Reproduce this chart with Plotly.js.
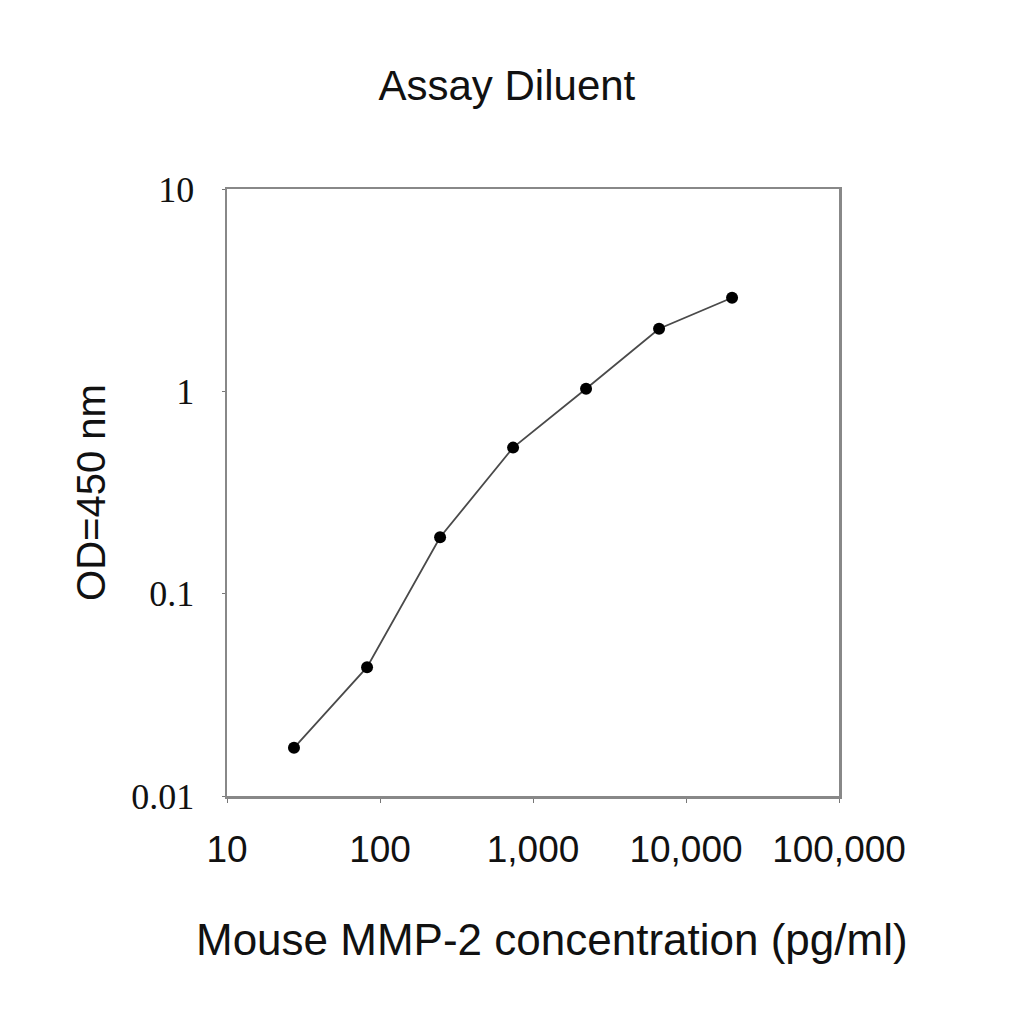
<!DOCTYPE html>
<html>
<head>
<meta charset="utf-8">
<script src="https://cdn.plot.ly/plotly-3.0.1.min.js"></script>
<style>
  html, body { margin: 0; padding: 0; background: #fff; }
  #chart { width: 1024px; height: 1024px; }
</style>
</head>
<body>
<div id="chart"></div>
<script>
// standard curve, 3-fold dilution series
var concentration = [27.4, 82.3, 247, 741, 2222, 6667, 20000];
var odValues = [0.0173, 0.0433, 0.190, 0.527, 1.03, 2.04, 2.90];

var xTickVals = [10, 100, 1000, 10000, 100000];
var xTickText = ['10', '100', '1,000', '10,000', '100,000'];
var yTickVals = [0.01, 0.1, 1, 10];
var yTickText = ['0.01', '0.1', '1', '10'];

var sans = 'Liberation Sans, Arial, sans-serif';
var serif = 'Liberation Serif, Times New Roman, serif';

var plotlyData = [
    {
        x: concentration,
        y: odValues,
        type: 'scatter',
        mode: 'lines+markers',
        line: { color: '#4a4a4a', width: 1.8 },
        marker: { color: '#000', size: 12 },
        cliponaxis: false
    }
];

var plotlyLayout = {
    width: 1024,
    height: 1024,
    paper_bgcolor: '#fff',
    plot_bgcolor: '#fff',
    showlegend: false,
    margin: { l: 227, r: 185, t: 189, b: 228 },
    title: {
        text: 'Assay Diluent',
        font: { family: sans, size: 42, color: '#111' },
        x: 0.495,
        xanchor: 'center',
        y: 0.917,
        yanchor: 'middle'
    },
    xaxis: {
        type: 'log',
        range: [1, 5],
        tickvals: xTickVals,
        ticktext: xTickText,
        ticks: 'outside',
        ticklen: 4,
        tickcolor: '#777',
        ticklabelstandoff: 15,
        showline: true,
        linecolor: '#888',
        linewidth: 2.5,
        mirror: true,
        showgrid: false,
        zeroline: false,
        tickfont: { family: sans, size: 37, color: '#111' }
    },
    yaxis: {
        type: 'log',
        range: [-2, 1],
        tickvals: yTickVals,
        ticktext: yTickText,
        ticks: 'outside',
        ticklen: 3,
        tickcolor: '#777',
        ticklabelstandoff: 20,
        showline: true,
        linecolor: '#888',
        linewidth: 2.5,
        mirror: true,
        showgrid: false,
        zeroline: false,
        tickfont: { family: serif, size: 36, color: '#111' },
        title: {
            text: 'OD=450 nm',
            font: { family: sans, size: 40, color: '#111' },
            standoff: 14
        }
    },
    // x axis title sits a little right of the plot centre in the original
    annotations: [
        {
            text: 'Mouse MMP-2 concentration (pg/ml)',
            xref: 'paper',
            yref: 'paper',
            x: 0.531,
            y: -0.237,
            xanchor: 'center',
            yanchor: 'middle',
            showarrow: false,
            font: { family: sans, size: 44, color: '#111' }
        }
    ]
};

var plotlyConfig = {
    displayModeBar: false,
    staticPlot: true
};

Plotly.newPlot('chart', plotlyData, plotlyLayout, plotlyConfig);
</script>
</body>
</html>
